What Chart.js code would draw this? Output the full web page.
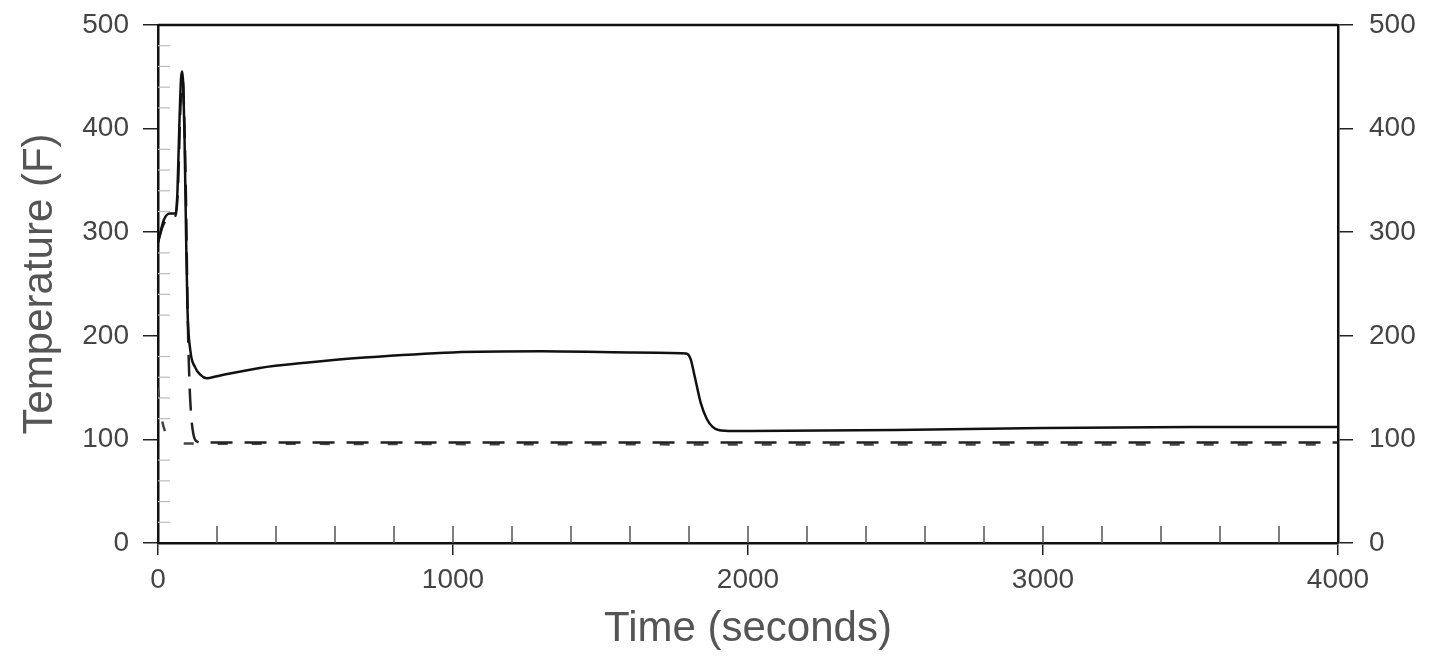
<!DOCTYPE html>
<html>
<head>
<meta charset="utf-8">
<script src="https://cdn.jsdelivr.net/npm/chart.js@4"></script>
<style>
  body { margin: 0; background: #fff; }
  #wrap { width: 1434px; height: 656px; }
</style>
</head>
<body>
<div id="wrap"><canvas id="temp-chart" width="1434" height="656"></canvas></div>
<script>
// time axis ticks and series
const timeTicks = [0, 1000, 2000, 3000, 4000];
const tempTicks = [0, 100, 200, 300, 400, 500];

const solidTime = [0, 10, 20, 40, 60, 66, 72, 78, 82, 86, 90, 95, 100, 110, 125, 145, 165, 200, 345, 500, 700, 1000, 1300, 1600, 1790, 1805, 1820, 1840, 1860, 1880, 1900, 1950, 2000, 2500, 3000, 3500, 4000];
const solidTemp = [290, 302, 312, 318, 318, 340, 400, 448, 455, 440, 390, 300, 225, 185, 170, 162, 159, 161, 169, 174, 179, 184, 185, 184, 183, 178, 160, 135, 120, 112, 109, 108, 108, 109, 111, 112, 112];

const dashTime = [0, 15, 40, 60, 68, 76, 84, 90, 95, 100, 106, 112, 120, 132, 150, 4000];
const dashTemp = [290, 305, 315, 316, 345, 420, 445, 400, 330, 230, 160, 125, 105, 98, 97, 97];

const shortTime = [0, 6, 14, 25, 40, 60, 90, 4000];
const shortTemp = [150, 132, 118, 107, 101, 98, 96, 95];

const toPoints = (ts, vs) => ts.map((t, i) => ({x: t, y: vs[i]}));

const FONT = "'Liberation Sans', Arial, sans-serif";

const frameTicks = {
  id: 'frameTicks',
  afterDatasetsDraw(chart) {
    const {ctx, chartArea, scales} = chart;
    const xs = scales.x, ys = scales.y;
    ctx.save();
    // top frame line
    ctx.strokeStyle = '#111';
    ctx.lineWidth = 2.5;
    ctx.beginPath();
    ctx.moveTo(chartArea.left, chartArea.top);
    ctx.lineTo(chartArea.right, chartArea.top);
    ctx.stroke();
    // minor ticks pointing into the plot along time axis
    ctx.strokeStyle = '#555';
    ctx.lineWidth = 1.5;
    for (let v = 200; v < 4000; v += 200) {
      const px = xs.getPixelForValue(v);
      ctx.beginPath();
      ctx.moveTo(px, chartArea.bottom);
      ctx.lineTo(px, chartArea.bottom - 17);
      ctx.stroke();
    }
    // faint minor ticks on left temperature axis
    ctx.strokeStyle = '#bbb';
    ctx.lineWidth = 1.2;
    for (let v = 20; v < 500; v += 20) {
      if (v % 100 === 0) continue;
      const py = ys.getPixelForValue(v);
      ctx.beginPath();
      ctx.moveTo(chartArea.left, py);
      ctx.lineTo(chartArea.left + 12, py);
      ctx.stroke();
    }
    ctx.restore();
  }
};

const tickOpts = {
  font: {family: FONT, size: 28},
  color: '#444',
  callback: (v) => String(v)
};

// fixed box sizes so the plot area lands where the reference has it
const fixBox = (w, h) => (s) => {
  if (w !== null) s.width = w;
  if (h !== null) s.height = h;
  s.paddingTop = 0;
  s.paddingBottom = 0;
  s.paddingLeft = 0;
  s.paddingRight = 0;
};

const ctx = document.getElementById('temp-chart').getContext('2d');
const tempChart = new Chart(ctx, {
  type: 'line',
  plugins: [frameTicks],
  data: {
    datasets: [{
      label: 'Temperature 1',
      data: toPoints(solidTime, solidTemp),
      borderColor: '#111',
      borderWidth: 2.5,
      pointRadius: 0,
      cubicInterpolationMode: 'monotone',
      yAxisID: 'y'
    }, {
      label: 'Temperature 2',
      data: toPoints(dashTime, dashTemp),
      borderColor: '#222',
      borderWidth: 2.5,
      borderDash: [22, 12],
      pointRadius: 0,
      cubicInterpolationMode: 'monotone',
      yAxisID: 'y'
    }, {
      label: 'Temperature 3',
      data: toPoints(shortTime, shortTemp),
      borderColor: '#444',
      borderWidth: 2.5,
      borderDash: [10, 24],
      pointRadius: 0,
      cubicInterpolationMode: 'monotone',
      yAxisID: 'y'
    }]
  },
  options: {
    responsive: false,
    animation: false,
    layout: {padding: {top: 25, left: 0, right: 0, bottom: 0}},
    plugins: {
      legend: {display: false},
      tooltip: {enabled: false}
    },
    scales: {
      x: {
        type: 'linear',
        min: 0,
        max: 4000,
        afterBuildTicks: (s) => { s.ticks = timeTicks.map(v => ({value: v})); },
        afterFit: fixBox(null, 113),
        ticks: Object.assign({padding: 8, maxRotation: 0}, tickOpts),
        grid: {drawOnChartArea: false, drawTicks: true, tickLength: 12, color: '#222', lineWidth: 1.5},
        border: {color: '#111', width: 2.5},
        title: {
          display: true,
          text: 'Time (seconds)',
          font: {family: FONT, size: 42},
          color: '#555',
          padding: {top: 0, bottom: 1}
        }
      },
      y: {
        position: 'left',
        min: 0,
        max: 500,
        afterBuildTicks: (s) => { s.ticks = tempTicks.map(v => ({value: v})); },
        afterFit: fixBox(158, null),
        ticks: Object.assign({padding: 14}, tickOpts),
        grid: {drawOnChartArea: false, drawTicks: true, tickLength: 15, color: '#222', lineWidth: 1.5},
        border: {color: '#111', width: 2.5},
        title: {
          display: true,
          text: 'Temperature (F)',
          font: {family: FONT, size: 42},
          color: '#555',
          padding: {top: 15, bottom: 0}
        }
      },
      y2: {
        position: 'right',
        min: 0,
        max: 500,
        afterBuildTicks: (s) => { s.ticks = tempTicks.map(v => ({value: v})); },
        afterFit: fixBox(96, null),
        ticks: Object.assign({padding: 16}, tickOpts),
        grid: {drawOnChartArea: false, drawTicks: true, tickLength: 15, color: '#222', lineWidth: 1.5},
        border: {color: '#111', width: 2.5}
      }
    }
  }
});
</script>
</body>
</html>
